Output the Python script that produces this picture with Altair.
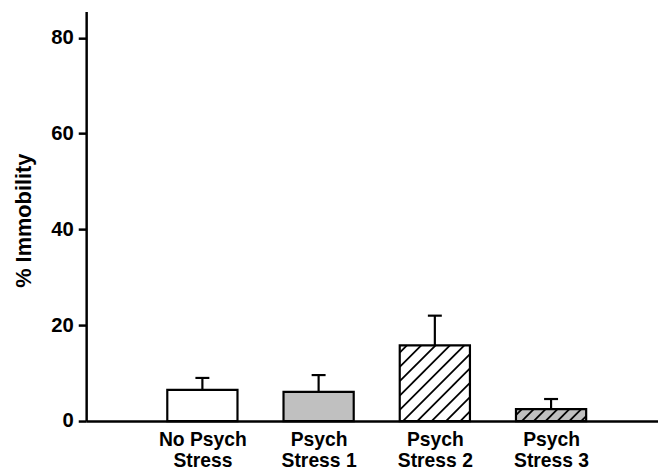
import json
import altair as alt
import pandas as pd

# ---- data ----
categories = ["No Psych Stress", "Psych Stress 1", "Psych Stress 2", "Psych Stress 3"]
label_lines = [["No Psych", "Stress"], ["Psych", "Stress 1"], ["Psych", "Stress 2"], ["Psych", "Stress 3"]]
means = [6.5, 6.1, 15.8, 2.5]
sems = [2.5, 3.5, 6.2, 2.1]
fills = ["#ffffff", "#c0c0c0", "#ffffff", "#c0c0c0"]
hatch_spacing = [0, 0, 14.5, 12.0]   # 0 = no hatch (pixels between hatch lines)
y_ticks = [0, 20, 40, 60, 80]

# ---- layout ----
WIDTH, HEIGHT = 578, 414
XMAX, YMAX = 4.92, 85.5
HALF_W = 0.302   # half bar width in x units
CAP_HW = 0.06    # half cap width
FONT = "Liberation Sans"

pos = [i + 1 for i in range(len(categories))]
df = pd.DataFrame({
    "cat": categories,
    "pos": pos,
    "x0": [p - HALF_W for p in pos],
    "x1": [p + HALF_W for p in pos],
    "mean": means,
    "top": [m + s for m, s in zip(means, sems)],
    "c0": [p - CAP_HW for p in pos],
    "c1": [p + CAP_HW for p in pos],
    "fill": fills,
})

# hatch segments: clip 45-degree (in pixels) lines to each hatched bar
sx, sy = WIDTH / XMAX, HEIGHT / YMAX
segs = []
for p, m, sp in zip(pos, means, hatch_spacing):
    if sp <= 0:
        continue
    px0, px1, ph = (p - HALF_W) * sx, (p + HALF_W) * sx, m * sy
    c = px0 - ph + sp * 0.5
    while c < px1:
        lo, hi = max(px0, c), min(px1, c + ph)
        if hi > lo:
            segs.append({"x0": lo / sx, "mean": (lo - c) / sy, "x1": hi / sx, "top": (hi - c) / sy})
        c += sp
hdf = pd.DataFrame(segs)

xscale = alt.Scale(domain=[0, XMAX], nice=False, zero=False)
yscale = alt.Scale(domain=[0, YMAX], nice=False)

label_expr = json.dumps(label_lines) + "[datum.value - 1]"

x_axis = alt.Axis(values=pos, ticks=False, labelExpr=label_expr, title=None,
                  labelFont=FONT, labelFontSize=19.5, labelFontWeight="bold", labelColor="black",
                  labelPadding=10, labelLineHeight=21, labelOverlap=False, labelFlush=False,
                  domainColor="black", domainWidth=2.5, grid=False)
y_axis = alt.Axis(values=y_ticks, title="% Immobility", grid=False,
                  labelFont=FONT, labelFontSize=20.5, labelFontWeight="bold", labelColor="black",
                  labelPadding=5, tickSize=8, tickWidth=2.5, tickColor="black",
                  domainColor="black", domainWidth=2.5,
                  titleFont=FONT, titleFontSize=22, titleFontWeight="bold", titleColor="black",
                  titleAngle=-90, titleX=-63, titleY=211, titleAlign="center", titleBaseline="middle")


def X(field):
    return alt.X(field, type="quantitative", scale=xscale, axis=x_axis, title=None)


def Y(field):
    return alt.Y(field, type="quantitative", scale=yscale, axis=y_axis, title="% Immobility")


base = alt.Chart(df)

bars_fill = base.mark_rect(strokeWidth=0).encode(
    x=X("x0"), x2="x1", y=Y("mean"), y2=alt.datum(0),
    fill=alt.Fill("fill:N", scale=None),
)

hatch = alt.Chart(hdf).mark_rule(color="black", strokeWidth=1.8).encode(
    x=X("x0"), x2="x1", y=Y("mean"), y2="top",
)

bars_outline = base.mark_rect(fillOpacity=0, stroke="black", strokeWidth=2.2).encode(
    x=X("x0"), x2="x1", y=Y("mean"), y2=alt.datum(0),
)

err = base.mark_rule(color="black", strokeWidth=2.2).encode(
    x=X("pos"), y=Y("mean"), y2="top",
)

cap = base.mark_rule(color="black", strokeWidth=2.2).encode(
    x=X("c0"), x2="c1", y=Y("top"),
)

chart = alt.layer(bars_fill, hatch, bars_outline, err, cap).properties(
    width=WIDTH, height=HEIGHT,
    autosize=alt.AutoSizeParams(type="none"),
    padding={"left": 79, "top": 1, "right": 0, "bottom": 50},
    background="white",
).configure_view(stroke=None)

chart.save("out.html", embed_options={"renderer": "svg", "actions": False})
